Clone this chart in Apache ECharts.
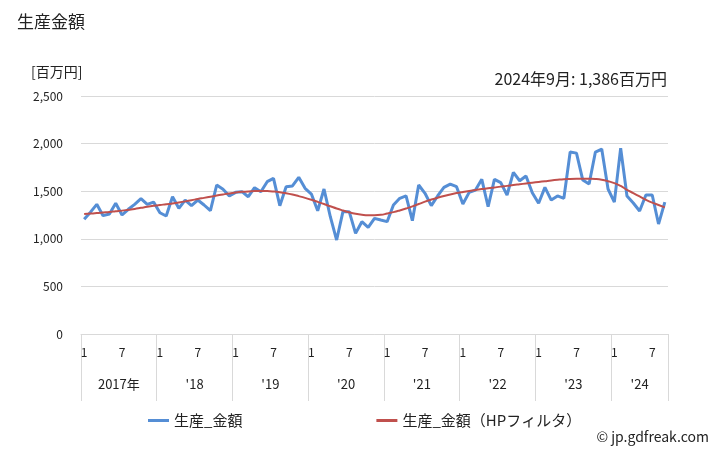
<!DOCTYPE html>
<html>
<head>
<meta charset="utf-8">
<script src="https://cdn.jsdelivr.net/npm/echarts@6/dist/echarts.min.js"></script>
<style>
html,body{margin:0;padding:0;background:#fff;}
#chart{width:728px;height:450px;}
</style>
</head>
<body>
<div id="chart"></div>
<script>
// ---- data ----
const years = [2017, 2018, 2019, 2020, 2021, 2022, 2023, 2024];
const monthsInYear = [12, 12, 12, 12, 12, 12, 12, 9];
const yearLabels = ['2017年', "'18", "'19", "'20", "'21", "'22", "'23", "'24"];
const monthTickLabels = ['1', '7'];

const prod2017 = [1205,1280,1362,1243,1260,1373,1250,1310,1362,1421,1362,1386];
const prod2018 = [1274,1239,1442,1320,1407,1348,1407,1355,1295,1565,1520,1450];
const prod2019 = [1488,1495,1442,1537,1495,1600,1635,1348,1547,1555,1646,1530];
const prod2020 = [1470,1295,1523,1232,987,1285,1285,1057,1180,1120,1215,1197];
const prod2021 = [1180,1355,1425,1450,1190,1565,1478,1348,1450,1540,1575,1547];
const prod2022 = [1365,1488,1512,1625,1337,1625,1590,1460,1698,1610,1660,1484];
const prod2023 = [1373,1540,1407,1450,1425,1911,1900,1617,1575,1911,1943,1523];
const prod2024 = [1386,1953,1449,1376,1292,1460,1460,1155,1386];

const hp2017 = [1260,1265,1270,1276,1282,1289,1296,1305,1314,1325,1336,1346];
const hp2018 = [1355,1363,1372,1382,1393,1405,1418,1430,1442,1454,1466,1477];
const hp2019 = [1486,1493,1498,1501,1502,1501,1497,1490,1479,1465,1448,1430];
const hp2020 = [1410,1388,1365,1342,1318,1297,1278,1263,1253,1248,1248,1252];
const hp2021 = [1265,1280,1298,1318,1340,1365,1390,1412,1432,1450,1466,1480];
const hp2022 = [1492,1503,1513,1522,1530,1539,1548,1556,1565,1573,1581,1589];
const hp2023 = [1597,1605,1613,1620,1626,1629,1631,1632,1631,1628,1620,1605];
const hp2024 = [1585,1555,1515,1480,1445,1410,1380,1355,1330];

const production = [].concat(prod2017, prod2018, prod2019, prod2020, prod2021, prod2022, prod2023, prod2024);
const hpTrend = [].concat(hp2017, hp2018, hp2019, hp2020, hp2021, hp2022, hp2023, hp2024);

const yTicks = [0, 500, 1000, 1500, 2000, 2500];

// categories (year-month)
const categories = [];
years.forEach((y, yi) => {
  for (let m = 1; m <= monthsInYear[yi]; m++) categories.push(y + '-' + m);
});
const nCat = categories.length;

// year label centers in category units
const yearCenters = [];
let acc = 0;
monthsInYear.forEach(n => { yearCenters.push(acc + n / 2); acc += n; });

const FONT = '"Noto Sans CJK JP", "Noto Sans", sans-serif';
const chart = echarts.init(document.getElementById('chart'));

chart.setOption({
  animation: false,
  textStyle: { fontFamily: FONT },
  title: [
    { text: '生産金額', left: 12, top: 8, textStyle: { fontSize: 17, fontWeight: 'normal', color: '#222', fontFamily: FONT } },
    { text: '[百万円]', left: 26, top: 60, textStyle: { fontSize: 14, fontWeight: 'normal', color: '#222', fontFamily: FONT } },
    { text: '2024年9月: 1,386百万円', right: 56, top: 66, textStyle: { fontSize: 16, fontWeight: 'normal', color: '#222', fontFamily: FONT } },
    { text: '© jp.gdfreak.com', right: 14, top: 425, textStyle: { fontSize: 14, fontWeight: 'normal', color: '#222', fontFamily: FONT } }
  ],
  grid: { left: 81, right: 60, top: 96, bottom: 116, containLabel: false },
  legend: {
    left: 143, top: 408,
    itemGap: 134,
    itemWidth: 21, itemHeight: 3,
    icon: 'rect',
    textStyle: { fontSize: 15, color: '#222', fontFamily: FONT },
    data: ['生産_金額', '生産_金額（HPフィルタ）']
  },
  xAxis: [
    {
      type: 'category',
      data: categories,
      boundaryGap: true,
      axisLine: { show: true, lineStyle: { color: '#d9d9d9', width: 1 } },
      axisTick: {
        show: true, length: 67,
        interval: function (i) { return i % 12 === 0; },
        lineStyle: { color: '#d9d9d9', width: 1 }
      },
      axisLabel: {
        interval: function (i) { return i % 6 === 0; },
        formatter: function (v, i) { return monthTickLabels[(i % 12) / 6]; },
        margin: 12, fontSize: 12, color: '#222', fontFamily: FONT
      },
      splitLine: { show: false }
    },
    {
      type: 'value',
      position: 'bottom',
      min: 0, max: nCat, interval: 1.5,
      axisLine: { show: false }, axisTick: { show: false }, splitLine: { show: false },
      axisLabel: {
        margin: 44, fontSize: 13, color: '#222', fontFamily: FONT,
        showMinLabel: true, showMaxLabel: true,
        formatter: function (v) {
          for (let k = 0; k < yearCenters.length; k++) {
            if (Math.abs(v - yearCenters[k]) < 0.01) return yearLabels[k];
          }
          return '';
        }
      }
    }
  ],
  yAxis: {
    type: 'value',
    min: yTicks[0], max: yTicks[yTicks.length - 1], interval: 500,
    axisLine: { show: false }, axisTick: { show: false },
    splitLine: { lineStyle: { color: '#d9d9d9', width: 1 } },
    axisLabel: {
      margin: 18, fontSize: 12, color: '#222', fontFamily: FONT,
      formatter: function (v) { return v.toLocaleString('en-US'); }
    }
  },
  series: [
    {
      name: '生産_金額', type: 'line', xAxisIndex: 0, data: production,
      symbol: 'none', lineStyle: { color: '#558ed5', width: 3 }, itemStyle: { color: '#558ed5' }, z: 2
    },
    {
      name: '生産_金額（HPフィルタ）', type: 'line', xAxisIndex: 0, data: hpTrend,
      symbol: 'none', smooth: true, lineStyle: { color: '#c0504d', width: 2 }, itemStyle: { color: '#c0504d' }, z: 3
    }
  ]
});
</script>
</body>
</html>
